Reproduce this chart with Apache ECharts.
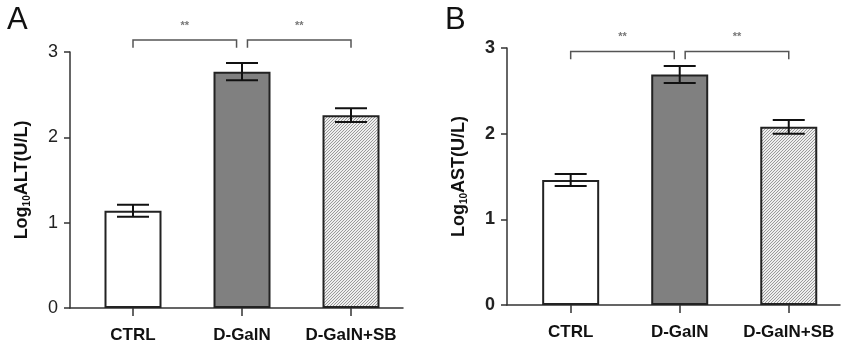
<!DOCTYPE html>
<html><head><meta charset="utf-8">
<script src="https://cdn.jsdelivr.net/npm/echarts@6/dist/echarts.min.js"></script>
<style>html,body{margin:0;padding:0;background:#fff}#c{width:844px;height:344px}</style>
</head><body><div id="c"></div>
<script>
// ---- data ----
const categories = ['CTRL', 'D-GalN', 'D-GalN+SB'];
const yTicks = [0, 1, 2, 3];
const altMean = [1.14, 2.77, 2.26];
const altErr = [0.07, 0.10, 0.08];
const astMean = [1.46, 2.69, 2.08];
const astErr = [0.07, 0.10, 0.08];
// bracket: [xStart, xEnd, yTop, yLegEnd]
const altBrackets = [[0, 0.95, 3.14, 3.05], [1.05, 2.0, 3.14, 3.05]];
const astBrackets = [[0, 0.95, 2.96, 2.87], [1.05, 2.0, 2.96, 2.87]];
const sigLabels = ['**', '**'];
const panelLetters = ['A', 'B'];
const yNames = ['ALT(U/L)', 'AST(U/L)'];

// ---- styles ----
const FONT = 'Liberation Sans, Arial, sans-serif';
const AX = '#333';
function hatch() {
  const c = document.createElement('canvas');
  c.width = 3; c.height = 3;
  const g = c.getContext('2d');
  g.fillStyle = '#eeeeee'; g.fillRect(0, 0, 3, 3);
  g.fillStyle = '#9a9a9a';
  g.fillRect(2, 0, 1, 1); g.fillRect(1, 1, 1, 1); g.fillRect(0, 2, 1, 1);
  return { image: c, repeat: 'repeat' };
}
const fills = ['#ffffff', '#808080', hatch()];

const chart = echarts.init(document.getElementById('c'), null, { renderer: 'canvas' });

const grids = [
  { left: 70, top: 52, width: 333, height: 257 },
  { left: 507, top: 48, width: 333, height: 257 }
];
const xRanges = [[-0.578, 2.477], [-0.584, 2.47]];
const labelBold = ['normal', 'bold'];

const xAxes = [], yAxes = [], series = [], titles = [];
[0, 1].forEach(i => {
  const means = i === 0 ? altMean : astMean;
  const errs = i === 0 ? altErr : astErr;
  const brackets = i === 0 ? altBrackets : astBrackets;
  xAxes.push({
    type: 'value', gridIndex: i, min: xRanges[i][0], max: xRanges[i][1],
    axisLine: { show: true, onZero: false, lineStyle: { color: AX, width: 1.5 } },
    axisTick: { show: true, length: 8, customValues: [0, 1, 2], lineStyle: { color: AX, width: 1.5 } },
    axisLabel: {
      customValues: [0, 1, 2], margin: 19,
      formatter: v => categories[Math.round(v)],
      fontFamily: FONT, fontSize: 17, fontWeight: 'bold', color: '#111'
    },
    splitLine: { show: false }
  });
  yAxes.push({
    type: 'value', gridIndex: i, min: yTicks[0], max: yTicks[yTicks.length - 1], interval: 1,
    axisLine: { show: true, onZero: false, lineStyle: { color: AX, width: 1.5 } },
    axisTick: { show: true, length: 6, lineStyle: { color: AX, width: 1.5 } },
    axisLabel: { margin: 12, fontFamily: FONT, fontSize: 18, fontWeight: labelBold[i], color: '#222' },
    splitLine: { show: false },
    name: '{a|Log}{b|10}{a|' + yNames[i] + '}',
    nameLocation: 'middle', nameRotate: 90, nameGap: 38,
    nameTextStyle: {
      rich: {
        a: { fontFamily: FONT, fontSize: 18, fontWeight: 'bold', color: '#111', lineHeight: 20 },
        b: { fontFamily: FONT, fontSize: 10, fontWeight: 'bold', color: '#111', verticalAlign: 'bottom', lineHeight: 12 }
      }
    }
  });
  titles.push({
    text: panelLetters[i], left: i === 0 ? 2 : 440, top: 0,
    textStyle: { fontFamily: FONT, fontSize: 31, fontWeight: 'normal', color: '#111' }
  });
  series.push({
    type: 'bar', xAxisIndex: i, yAxisIndex: i, barWidth: 57,
    data: means.map((m, k) => ({ value: [k, m], itemStyle: { color: fills[k] } })),
    itemStyle: { borderColor: '#222', borderWidth: 2 },
    silent: true, animation: false
  });
  series.push({
    type: 'custom', xAxisIndex: i, yAxisIndex: i, clip: false, animation: false, silent: true, z: 5,
    data: means.map((m, k) => [k, m - errs[k], m + errs[k]]),
    renderItem: (params, api) => {
      const lo = api.coord([api.value(0), api.value(1)]);
      const hi = api.coord([api.value(0), api.value(2)]);
      const hw = 16;
      const st = { stroke: '#111', lineWidth: 2 };
      return { type: 'group', children: [
        { type: 'line', shape: { x1: lo[0], y1: lo[1], x2: hi[0], y2: hi[1] }, style: st },
        { type: 'line', shape: { x1: lo[0] - hw, y1: lo[1], x2: lo[0] + hw, y2: lo[1] }, style: st },
        { type: 'line', shape: { x1: hi[0] - hw, y1: hi[1], x2: hi[0] + hw, y2: hi[1] }, style: st }
      ]};
    }
  });
  series.push({
    type: 'custom', xAxisIndex: i, yAxisIndex: i, clip: false, animation: false, silent: true, z: 6,
    data: brackets.map((b, k) => [b[0], b[1], b[2], b[3], k]),
    renderItem: (params, api) => {
      const p1 = api.coord([api.value(0), api.value(3)]);
      const p2 = api.coord([api.value(0), api.value(2)]);
      const p3 = api.coord([api.value(1), api.value(2)]);
      const p4 = api.coord([api.value(1), api.value(3)]);
      return { type: 'group', children: [
        { type: 'polyline', shape: { points: [p1, p2, p3, p4] }, style: { stroke: '#555', lineWidth: 1.5, fill: null } },
        { type: 'text', x: (p2[0] + p3[0]) / 2, y: p2[1] - 14,
          style: { text: sigLabels[api.value(4)], fill: '#777', font: 'bold 11px ' + FONT, align: 'center', verticalAlign: 'middle' } }
      ]};
    }
  });
});

chart.setOption({
  backgroundColor: '#fff',
  animation: false,
  title: titles,
  grid: grids,
  xAxis: xAxes,
  yAxis: yAxes,
  series: series
});
</script>
</body></html>
